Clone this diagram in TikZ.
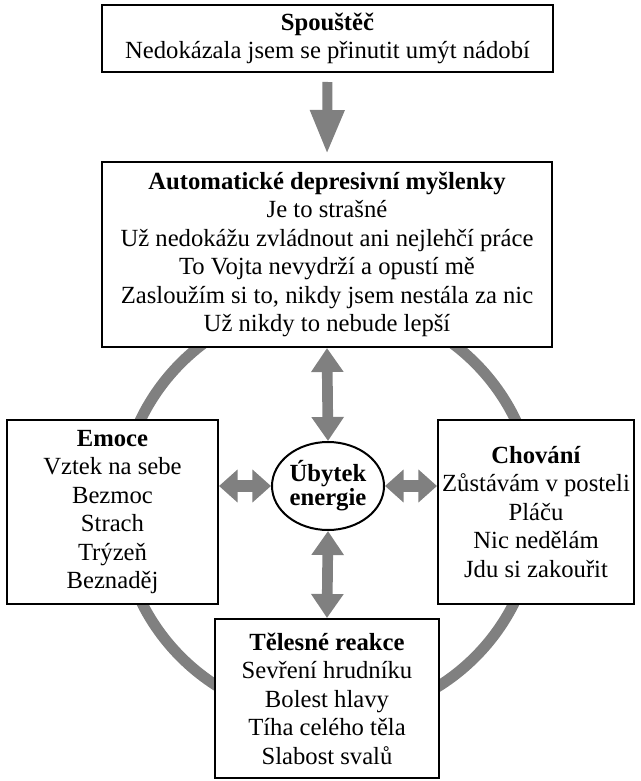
\documentclass[tikz,border=0pt]{standalone}
\usepackage{fontspec}
\setmainfont{Liberation Serif}
\usetikzlibrary{arrows.meta,shapes.geometric}
\definecolor{kruh}{RGB}{128,128,128}

\begin{document}
\begin{tikzpicture}[x=0.75pt,y=-0.75pt,
  box/.style={draw, line width=1.5pt, fill=white, align=center, inner sep=0pt,
    font=\fontsize{18.5}{21.4}\selectfont},
  sipka/.style={draw=kruh, line width=7.5pt, -{Triangle[length=33pt,width=24pt,fill=kruh]}},
  vsipka/.style={draw=kruh, line width=8pt,
    {Triangle[length=18pt,width=23.25pt,fill=kruh]}-{Triangle[length=18pt,width=23.25pt,fill=kruh]}},
  hsipka/.style={draw=kruh, line width=9pt,
    {Triangle[length=14pt,width=24pt,fill=kruh]}-{Triangle[length=14pt,width=24pt,fill=kruh]}}]
\useasboundingbox (0,0) rectangle (641,781);

% kruh
\draw[kruh, line width=8.25pt] (328,510) circle (208);

% boxy
\node[box, minimum width=338.25pt, minimum height=50.25pt] (spoustec) at (327.5,38.5)
  {\textbf{Spouštěč}\\Nedokázala jsem se přinutit umýt nádobí};
\node[box, minimum width=337.5pt, minimum height=138.75pt] (mysl) at (327,254.5)
  {\textbf{Automatické depresivní myšlenky}\\Je to strašné\\Už nedokážu zvládnout ani nejlehčí práce\\To Vojta nevydrží a opustí mě\\Zasloužím si to, nikdy jsem nestála za nic\\Už nikdy to nebude lepší};
\node[box, minimum width=158.25pt, minimum height=138pt] (emoce) at (112.5,512)
  {\textbf{Emoce}\\Vztek na sebe\\Bezmoc\\Strach\\Trýzeň\\Beznaděj};
\node[box, minimum width=147pt, minimum height=138pt] (chovani) at (536,512)
  {\textbf{Chování}\\Zůstávám v posteli\\Pláču\\Nic nedělám\\Jdu si zakouřit};
\node[box, minimum width=168pt, minimum height=119.25pt] (telo) at (327,698.5)
  {\textbf{Tělesné reakce}\\Sevření hrudníku\\Bolest hlavy\\Tíha celého těla\\Slabost svalů};
\node[ellipse, draw, line width=1.5pt, fill=white, align=center, inner sep=0pt,
  minimum width=84pt, minimum height=66pt, font=\fontsize{18.5}{16.5}\selectfont\bfseries]
  (ubytek) at (328,486) {Úbytek\\energie};

% sipky
\draw[sipka, shorten <=6.75pt, shorten >=5.25pt] (spoustec.south) -- (mysl.north);
\draw[vsipka] (mysl.south) -- (ubytek.north);
\draw[vsipka] (ubytek.south) -- (telo.north);
\draw[hsipka] (ubytek.west -| emoce.east) -- (ubytek.west);
\draw[hsipka] (ubytek.east) -- (ubytek.east -| chovani.west);
\end{tikzpicture}
\end{document}
